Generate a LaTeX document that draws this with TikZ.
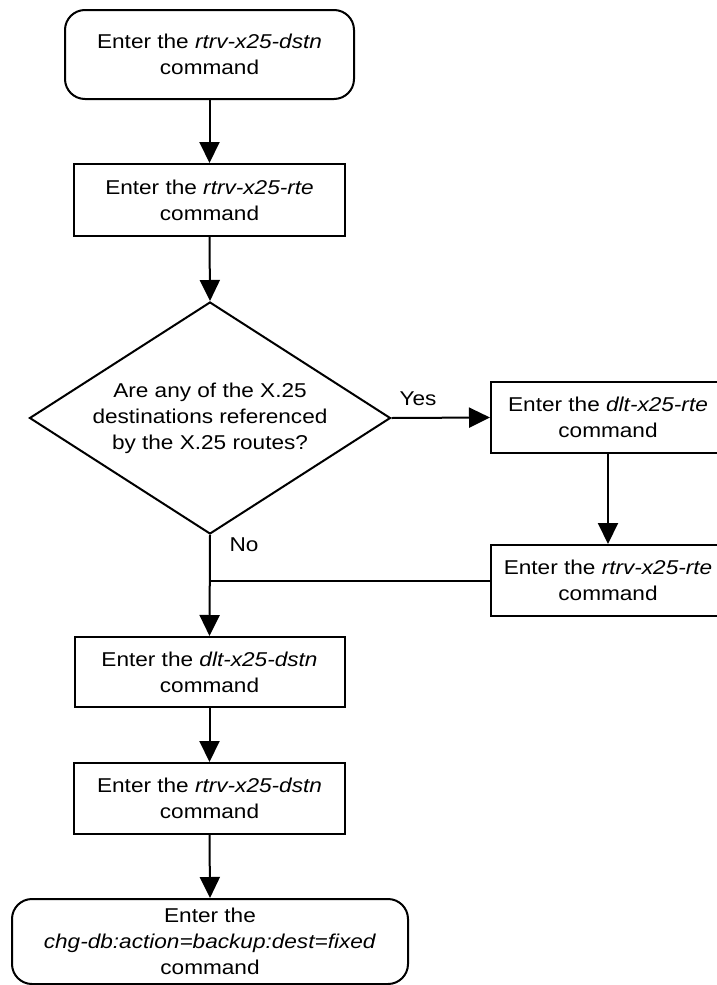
\documentclass[tikz,border=0pt]{standalone}
\usepackage{fontspec}
\setmainfont{Liberation Sans}[FakeStretch=1.13]
\usetikzlibrary{shapes.geometric,arrows.meta}
\begin{document}
\begin{tikzpicture}[x=1pt,y=-1pt,
  line width=2pt,
  txt/.style={font=\fontsize{20}{26}\selectfont, align=center},
  procbox/.style={txt, draw, rectangle, inner sep=0pt},
  termbox/.style={txt, draw, rectangle, rounded corners=20pt, inner sep=0pt},
  decision/.style={txt, draw, diamond, inner sep=0pt, aspect=1.556},
  flow/.style={-{Triangle[length=21pt,width=20pt]}},
  lbl/.style={font=\fontsize{20}{26}\selectfont, anchor=base, inner sep=0pt}]
\useasboundingbox (0,0) rectangle (717,985);
\clip (0,0) rectangle (717,985);

\node[termbox, minimum width=289pt, minimum height=89pt] (b1) at (209.5,54.5)
  {Enter the \textit{rtrv-x25-dstn}\\command};
\node[procbox, minimum width=271pt, minimum height=72pt] (b2) at (209.5,200)
  {Enter the \textit{rtrv-x25-rte}\\command};
\node[decision, minimum width=361pt, minimum height=232pt] (dia) at (210,418)
  {Are any of the X.25\\destinations referenced\\by the X.25 routes?};
\node[procbox, minimum width=234pt, minimum height=71pt] (b3) at (608,417.5)
  {Enter the \textit{dlt-x25-rte}\\command};
\node[procbox, minimum width=234pt, minimum height=71pt] (b4) at (608,580.5)
  {Enter the \textit{rtrv-x25-rte}\\command};
\node[procbox, minimum width=270pt, minimum height=70pt] (b5) at (209.5,672)
  {Enter the \textit{dlt-x25-dstn}\\command};
\node[procbox, minimum width=271pt, minimum height=71pt] (b6) at (209.5,798.5)
  {Enter the \textit{rtrv-x25-dstn}\\command};
\node[termbox, minimum width=396pt, minimum height=85pt] (b7) at (210,941.5)
  {Enter the\\\textit{chg-db:action=backup:dest=fixed}\\command};

\node[lbl] (yes) at (418,405) {Yes};
\node[lbl] (no) at (244,551) {No};

\draw[flow] (b1.south) -- (b2.north);
\draw[flow] (b2.south) -- (dia.north);
\draw[flow] (dia.east) -- (b3.west);
\draw[flow] (b3.south) -- (b4.north);
\draw[flow] (dia.south) -- (b5.north);
\coordinate (join) at (b4.west -| dia.south);
\draw (b4.west) -- (join);
\draw[flow] (b5.south) -- (b6.north);
\draw[flow] (b6.south) -- (b7.north);
\end{tikzpicture}
\end{document}
